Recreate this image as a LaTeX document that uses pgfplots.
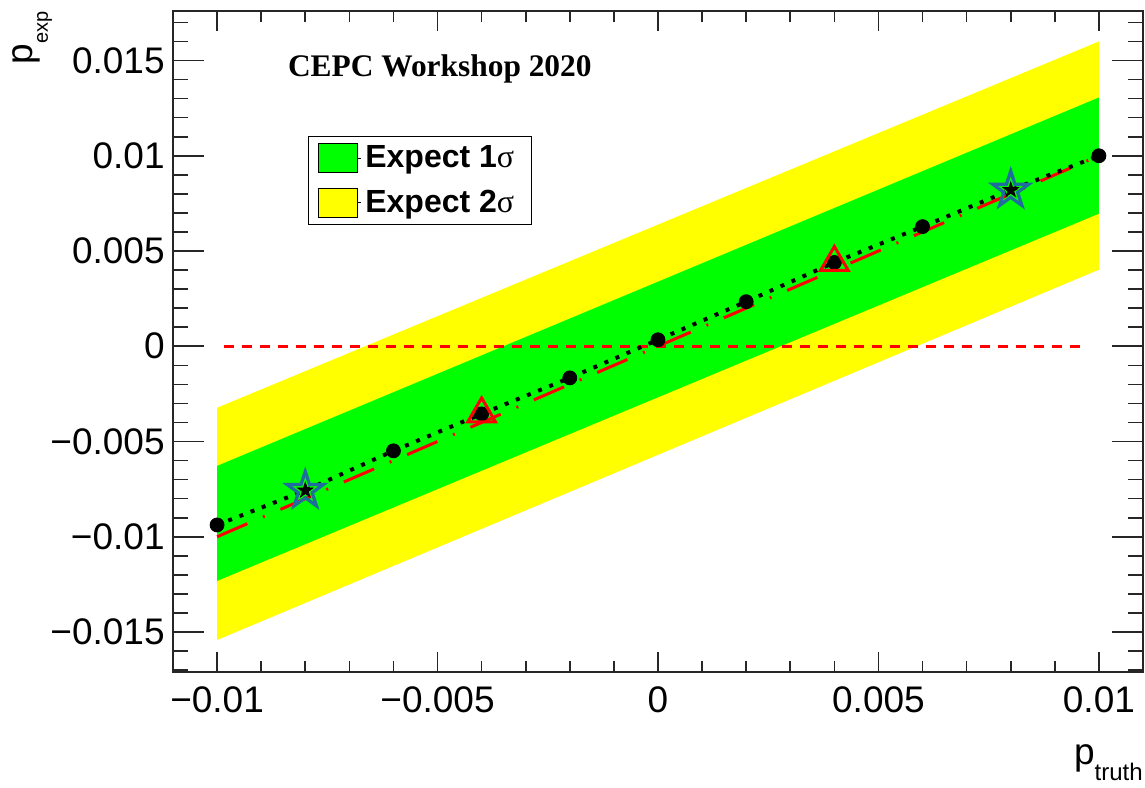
\documentclass[border=0pt]{standalone}
\usepackage{fontspec}
\setmainfont{Liberation Sans}
\newfontfamily\timesf{Liberation Serif}
\usepackage{pgfplots}
\pgfplotsset{compat=1.18}

\definecolor{rootgreen}{RGB}{0,255,0}
\definecolor{rootyellow}{RGB}{255,255,0}
\definecolor{rootred}{RGB}{255,0,0}
\definecolor{starblue}{RGB}{31,109,158}
\newcommand{\ticksize}{\fontsize{18.5}{18.5}\selectfont}

% five-pointed star, open and filled
\pgfdeclareplotmark{fivestar}{%
  \pgfpathmoveto{\pgfpointpolar{90}{\pgfplotmarksize}}%
  \pgfpathlineto{\pgfpointpolar{126}{0.382\pgfplotmarksize}}%
  \pgfpathlineto{\pgfpointpolar{162}{\pgfplotmarksize}}%
  \pgfpathlineto{\pgfpointpolar{198}{0.382\pgfplotmarksize}}%
  \pgfpathlineto{\pgfpointpolar{234}{\pgfplotmarksize}}%
  \pgfpathlineto{\pgfpointpolar{270}{0.382\pgfplotmarksize}}%
  \pgfpathlineto{\pgfpointpolar{306}{\pgfplotmarksize}}%
  \pgfpathlineto{\pgfpointpolar{342}{0.382\pgfplotmarksize}}%
  \pgfpathlineto{\pgfpointpolar{18}{\pgfplotmarksize}}%
  \pgfpathlineto{\pgfpointpolar{54}{0.382\pgfplotmarksize}}%
  \pgfpathclose
  \pgfusepathqstroke}
\pgfdeclareplotmark{fivestarfilled}{%
  \pgfpathmoveto{\pgfpointpolar{90}{\pgfplotmarksize}}%
  \pgfpathlineto{\pgfpointpolar{126}{0.382\pgfplotmarksize}}%
  \pgfpathlineto{\pgfpointpolar{162}{\pgfplotmarksize}}%
  \pgfpathlineto{\pgfpointpolar{198}{0.382\pgfplotmarksize}}%
  \pgfpathlineto{\pgfpointpolar{234}{\pgfplotmarksize}}%
  \pgfpathlineto{\pgfpointpolar{270}{0.382\pgfplotmarksize}}%
  \pgfpathlineto{\pgfpointpolar{306}{\pgfplotmarksize}}%
  \pgfpathlineto{\pgfpointpolar{342}{0.382\pgfplotmarksize}}%
  \pgfpathlineto{\pgfpointpolar{18}{\pgfplotmarksize}}%
  \pgfpathlineto{\pgfpointpolar{54}{0.382\pgfplotmarksize}}%
  \pgfpathclose
  \pgfusepathqfillstroke}

\pgfplotstableread{
x       y
-0.010 -0.00938
-0.008 -0.00757
-0.006 -0.00549
-0.004 -0.00355
-0.002 -0.00166
 0.000  0.00034
 0.002  0.00234
 0.004  0.00440
 0.006  0.00628
 0.008  0.00820
 0.010  0.01000
}\fitdata

\begin{document}
\begin{tikzpicture}
\begin{axis}[
  name=ax,
  scale only axis, width=485pt, height=330.5pt,
  xmin=-0.011, xmax=0.011, ymin=-0.0171, ymax=0.0176,
  scaled ticks=false,
  xtick={-0.01,-0.005,0,0.005,0.01},
  xticklabels={−0.01,−0.005,0,0.005,0.01},
  ytick={-0.015,-0.01,-0.005,0,0.005,0.01,0.015},
  yticklabels={−0.015,−0.01,−0.005,0,0.005,0.01,0.015},
  minor xtick={-0.009,-0.008,-0.007,-0.006,-0.004,-0.003,-0.002,-0.001,
               0.001,0.002,0.003,0.004,0.006,0.007,0.008,0.009},
  minor ytick={-0.017,-0.016,-0.014,-0.013,-0.012,-0.011,-0.009,-0.008,-0.007,-0.006,
               -0.004,-0.003,-0.002,-0.001,0.001,0.002,0.003,0.004,0.006,0.007,0.008,0.009,
               0.011,0.012,0.013,0.014,0.016,0.017},
  tick align=inside,
  axis line style={line width=0.8pt, black!85},
  every tick/.style={line width=0.8pt, black!85},
  xtick style={/pgfplots/major tick length=10pt, /pgfplots/minor tick length=5.5pt},
  ytick style={/pgfplots/major tick length=15.5pt, /pgfplots/minor tick length=7.5pt},
  ticklabel style={font=\ticksize},
  xticklabel style={inner sep=0pt, yshift=-7pt},
  yticklabel style={inner sep=0pt, xshift=-4pt},
  legend style={at={(0.139,0.811)}, anchor=north west, draw=black, line width=0.5pt,
    font=\fontsize{16}{16}\selectfont\bfseries, inner xsep=5pt, inner ysep=2.7pt,
    row sep=5.5pt},
  legend cell align=left,
  legend image code/.code={%
    \path (0pt,0pt) -- (21pt,0pt);
    \draw[#1, draw=black, line width=0.5pt] (0pt,-7.25pt) rectangle (19.5pt,7.25pt);},
]
  \addlegendimage{fill=rootgreen}
  \addlegendentry{Expect 1{\timesf\mdseries σ}\hspace*{1.5pt}}
  \addlegendimage{fill=rootyellow}
  \addlegendentry{Expect 2{\timesf\mdseries σ}\hspace*{1.5pt}}

  % 2 sigma and 1 sigma bands
  \addplot[draw=none, fill=rootyellow, forget plot]
    coordinates {(-0.01,-0.00323) (0.01,0.01600) (0.01,0.00402) (-0.01,-0.01542)} -- cycle;
  \addplot[draw=none, fill=rootgreen, forget plot]
    coordinates {(-0.01,-0.00628) (0.01,0.01306) (0.01,0.00696) (-0.01,-0.01232)} -- cycle;

  % truth line and zero line
  \addplot[rootred, line width=1.5pt, dash pattern=on 16.5pt off 8.5pt on 1pt off 8.5pt, forget plot]
    coordinates {(-0.01,-0.01) (0.01,0.01)};
  \addplot[rootred, line width=1.4pt, dash pattern=on 5pt off 4pt, forget plot]
    coordinates {(-0.00985,0) (0.00967,0)};

  % expected values
  \addplot[black, line width=2pt, dash pattern=on 2pt off 4pt, forget plot] table {\fitdata};
  \addplot[only marks, mark=*, mark size=3.5pt, black, forget plot]
    coordinates {(-0.010,-0.00938) (-0.006,-0.00549) (-0.004,-0.00355) (-0.002,-0.00166)
                 (0,0.00034) (0.002,0.00234) (0.004,0.00440) (0.006,0.00628) (0.010,0.01000)};
  \addplot[only marks, mark=triangle, mark size=8pt, rootred, mark options={line width=1.5pt}, forget plot]
    coordinates {(-0.004,-0.00355) (0.004,0.00440)};
  \addplot[only marks, mark=fivestar, mark size=9.5pt, starblue, mark options={line width=1.6pt}, forget plot]
    coordinates {(-0.008,-0.00757) (0.008,0.00820)};
  \addplot[only marks, mark=fivestarfilled, mark size=4pt, black, forget plot]
    coordinates {(-0.008,-0.00757) (0.008,0.00820)};

  \node[anchor=base west, inner sep=0pt, font=\timesf\bfseries\fontsize{15.7}{16}\selectfont]
    at (axis cs:-0.0084,0.01416) {CEPC Workshop 2020};
\end{axis}
\node[rotate=90, anchor=base east, inner sep=0pt] at ([xshift=-70pt]ax.north west)
  {\ticksize p\raisebox{-7.5pt}{\fontsize{10}{10}\selectfont exp}};
\node[anchor=base east, inner sep=0pt] at ([yshift=-46pt]ax.south east)
  {\ticksize p\raisebox{-8pt}{\fontsize{12}{12}\selectfont truth}};
\pgfresetboundingbox
\useasboundingbox ([xshift=-86.5pt,yshift=-57.5pt]ax.south west) rectangle ([xshift=1pt,yshift=5.5pt]ax.north east);
\end{tikzpicture}
\end{document}
